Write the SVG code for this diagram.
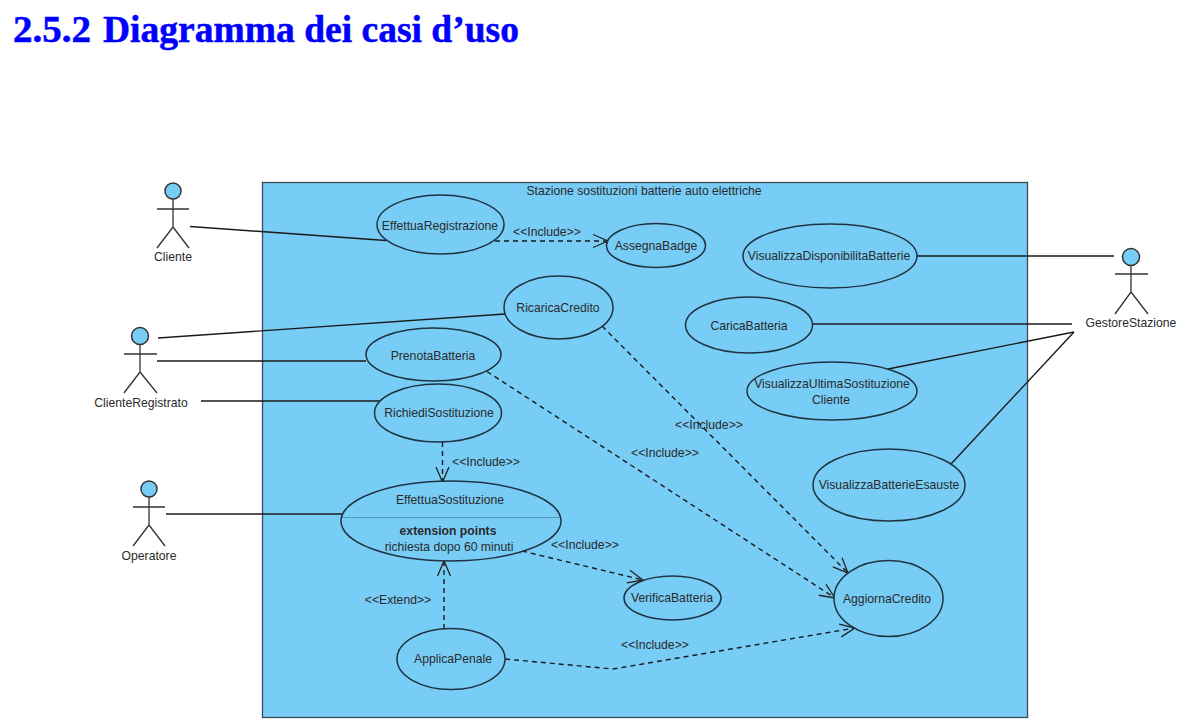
<svg xmlns="http://www.w3.org/2000/svg" width="1183" height="726" viewBox="0 0 1183 726">
<defs>
<marker id="open" markerUnits="userSpaceOnUse" markerWidth="20" markerHeight="20" refX="16" refY="10" orient="auto"><path d="M1 3.500L16 10L1 16.500" fill="none" stroke="#222" stroke-width="1.300"/></marker>
</defs>
<style>
text{font-family:"Liberation Sans",Arial,sans-serif;font-size:12.200px;fill:#2a2a2a;text-anchor:middle}
.uc{fill:#78cdf6;stroke:#1f3340;stroke-width:1.500}
.a{stroke:#333;stroke-width:1.300;fill:none}
.h{fill:#78cdf6;stroke:#333;stroke-width:1.500}
.l{stroke:#1a1a1a;stroke-width:1.400;fill:none}
.d{stroke:#1a1a1a;stroke-width:1.400;fill:none;stroke-dasharray:5 4;marker-end:url(#open)}
</style>
<rect width="1183" height="726" fill="#fff"/>
<text y="42" style="font-family:'Liberation Serif',serif;font-size:38px;font-weight:bold;fill:#0000ff;stroke:#0000ff;stroke-width:.5;text-anchor:start"><tspan x="13" textLength="78" lengthAdjust="spacingAndGlyphs">2.5.2</tspan> <tspan x="103" textLength="416" lengthAdjust="spacingAndGlyphs">Diagramma dei casi d’uso</tspan></text>
<g id="system"><rect x="262.500" y="182.500" width="765" height="535" fill="#78cdf6" stroke="#3a4a55" stroke-width="1.300"/><text x="644" y="195">Stazione sostituzioni batterie auto elettriche</text></g>
<g id="connectors">
<path class="l" d="M190 226.500L386 240.500"/>
<path class="l" d="M158 338L505 314"/>
<path class="l" d="M157 361L366 361"/>
<path class="l" d="M201 401L380 401"/>
<path class="l" d="M166 514L342 514"/>
<path class="l" d="M917 256L1114 256"/>
<path class="l" d="M813 324L1072 324"/>
<path class="l" d="M888 369L1074 332"/>
<path class="l" d="M951 464L1074 332"/>
<path class="d" d="M495 241L608 241"/>
<path class="d" d="M602 326L848 573"/>
<path class="d" d="M487 371.500L835 598"/>
<path class="d" d="M442.500 442L442.500 482"/>
<path class="d" d="M522 551L643 580"/>
<path class="d" d="M444 629L444 561"/>
<path class="d" d="M505 659L613 669L855 628"/>
</g>
<g id="labels">
<text x="547" y="236">&lt;&lt;Include&gt;&gt;</text>
<text x="709" y="429">&lt;&lt;Include&gt;&gt;</text>
<text x="665" y="457">&lt;&lt;Include&gt;&gt;</text>
<text x="486" y="466">&lt;&lt;Include&gt;&gt;</text>
<text x="585" y="549">&lt;&lt;Include&gt;&gt;</text>
<text x="398" y="604">&lt;&lt;Extend&gt;&gt;</text>
<text x="655" y="649">&lt;&lt;Include&gt;&gt;</text>
</g>
<g id="uc1"><ellipse class="uc" cx="440.500" cy="224.500" rx="63.500" ry="29.500"/><text x="440" y="230">EffettuaRegistrazione</text></g>
<g id="uc2"><ellipse class="uc" cx="656" cy="245.500" rx="49.500" ry="22"/><text x="656" y="250">AssegnaBadge</text></g>
<g id="uc3"><ellipse class="uc" cx="558.500" cy="307.500" rx="54.500" ry="31.500"/><text x="558" y="312">RicaricaCredito</text></g>
<g id="uc4"><ellipse class="uc" cx="433.500" cy="354.500" rx="67.500" ry="26.500"/><text x="433" y="360">PrenotaBatteria</text></g>
<g id="uc5"><ellipse class="uc" cx="438" cy="413" rx="63.500" ry="29"/><text x="439" y="417">RichiediSostituzione</text></g>
<g id="uc6"><ellipse class="uc" cx="451" cy="521" rx="110" ry="40"/><path d="M342 517.500H560" stroke="#4a7f9c" stroke-width=".7"/><text x="450" y="504">EffettuaSostituzione</text><text x="448" y="535" style="font-weight:bold">extension points</text><text x="449" y="551">richiesta dopo 60 minuti</text></g>
<g id="uc7"><ellipse class="uc" cx="672.500" cy="598" rx="48.500" ry="22"/><text x="672" y="602">VerificaBatteria</text></g>
<g id="uc8"><ellipse class="uc" cx="451" cy="659" rx="54" ry="30.500"/><text x="453" y="663">ApplicaPenale</text></g>
<g id="uc9"><ellipse class="uc" cx="888.500" cy="598.500" rx="54.500" ry="38"/><text x="887" y="603">AggiornaCredito</text></g>
<g id="uc10"><ellipse class="uc" cx="830" cy="256" rx="87" ry="32"/><text x="829" y="260">VisualizzaDisponibilitaBatterie</text></g>
<g id="uc11"><ellipse class="uc" cx="749" cy="325" rx="63.500" ry="28"/><text x="749" y="330">CaricaBatteria</text></g>
<g id="uc12"><ellipse class="uc" cx="832" cy="391" rx="85" ry="29"/><text x="832" y="388">VisualizzaUltimaSostituzione</text><text x="831" y="404">Cliente</text></g>
<g id="uc13"><ellipse class="uc" cx="889" cy="485" rx="76" ry="36"/><text x="889" y="489">VisualizzaBatterieEsauste</text></g>
<g id="actor1"><circle class="h" cx="173" cy="191" r="8"/><path class="a" d="M173 199V227M157 209H189M173 227L157 248M173 227L189 248"/><text x="173" y="261">Cliente</text></g>
<g id="actor2"><circle class="h" cx="140" cy="336" r="8.500"/><path class="a" d="M140 345V372M124 354H157M140 372L124 393M140 372L157 393"/><text x="141" y="407">ClienteRegistrato</text></g>
<g id="actor3"><circle class="h" cx="149" cy="489" r="8"/><path class="a" d="M149 497V525M133 507H165M149 525L133 546M149 525L165 546"/><text x="149" y="560">Operatore</text></g>
<g id="actor4"><circle class="h" cx="1131" cy="257" r="8.500"/><path class="a" d="M1131 266V292M1115 274H1148M1131 292L1115 314M1131 292L1148 314"/><text x="1131" y="327">GestoreStazione</text></g>
</svg>
